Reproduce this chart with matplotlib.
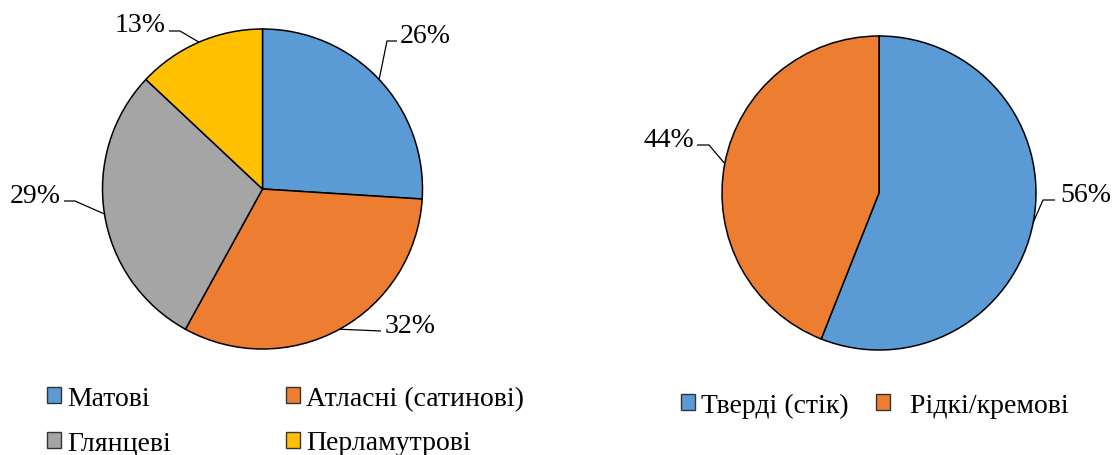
import numpy as np
import matplotlib
matplotlib.use("Agg")
import matplotlib.pyplot as plt

plt.rcParams['font.family'] = ['Liberation Serif', 'DejaVu Serif']

# finish types (left pie)
finish_labels = ['Матові', 'Атласні (сатинові)', 'Глянцеві', 'Перламутрові']
finish_share = [26, 32, 29, 13]
finish_colors = ['#5B9BD5', '#ED7D31', '#A5A5A5', '#FFC000']

# product form (right pie)
form_labels = ['Тверді (стік)', '  Рідкі/кремові']
form_share = [56, 44]
form_colors = ['#5B9BD5', '#ED7D31']

W, H = 1112, 456
FS = 20


def py(y):
    # pixel row -> data y
    return H - y


fig = plt.figure(figsize=(W / 100, H / 100), dpi=100)
ax = fig.add_axes([0, 0, 1, 1])

wedge_kw = dict(edgecolor='black', linewidth=1.1)
c1, r1 = (262.5, py(190)), 160
c2, r2 = (879, py(194)), 157
w1, _ = ax.pie(finish_share, colors=finish_colors, center=c1, radius=r1,
               startangle=90, counterclock=False, wedgeprops=wedge_kw)
w2, _ = ax.pie(form_share, colors=form_colors, center=c2, radius=r2,
               startangle=90, counterclock=False, wedgeprops=wedge_kw)

ax.set_xlim(0, W)
ax.set_ylim(0, H)
ax.set_aspect('auto')
ax.axis('off')

# label placement: (text x, baseline y, ha, elbow, line end) in pixels
left_place = [
    (400, 43, 'left', (387, 42), (397, 42)),
    (385, 333, 'left', None, (381, 332)),
    (61, 203, 'right', (75, 202), (64, 202)),
    (166, 32, 'right', (180, 32), (169, 32)),
]
right_place = [
    (1060, 202, 'left', (1043, 201), (1055, 201)),
    (694, 147, 'right', (709, 146), (697, 146)),
]


def add_labels(wedges, shares, centre, radius, places):
    for w, s, (tx, ty, ha, elbow, end) in zip(wedges, shares, places):
        mid = np.deg2rad((w.theta1 + w.theta2) / 2)
        ex = centre[0] + radius * np.cos(mid)
        ey = centre[1] + radius * np.sin(mid)
        xs, ys = [ex], [ey]
        if elbow is not None:
            xs.append(elbow[0]); ys.append(py(elbow[1]))
        xs.append(end[0]); ys.append(py(end[1]))
        ax.plot(xs, ys, color='black', lw=0.9, solid_capstyle='butt')
        ax.text(tx, py(ty), f'{s}%', ha=ha, va='baseline', fontsize=FS)


add_labels(w1, finish_share, c1, r1, left_place)
add_labels(w2, form_share, c2, r2, right_place)

leg_kw = dict(frameon=False, fontsize=FS, handlelength=0.5, handleheight=0.5,
              handletextpad=0.22, borderpad=0, borderaxespad=0, loc='upper left')
# legend fills column by column, so reorder to read row-wise
order = [0, 2, 1, 3]
leg1 = fig.legend([w1[i] for i in order], [finish_labels[i] for i in order],
                  ncol=2, columnspacing=4.15, labelspacing=0.7,
                  bbox_to_anchor=(47 / W, 1 - 387 / H), **leg_kw)
leg2 = fig.legend(w2, form_labels, ncol=2, columnspacing=1.0,
                  bbox_to_anchor=(681 / W, 1 - 394 / H), **leg_kw)
for leg in (leg1, leg2):
    for h in leg.legend_handles:
        h.set_edgecolor('#333333')
        h.set_linewidth(1.0)

fig.savefig('out.png', dpi=100)
